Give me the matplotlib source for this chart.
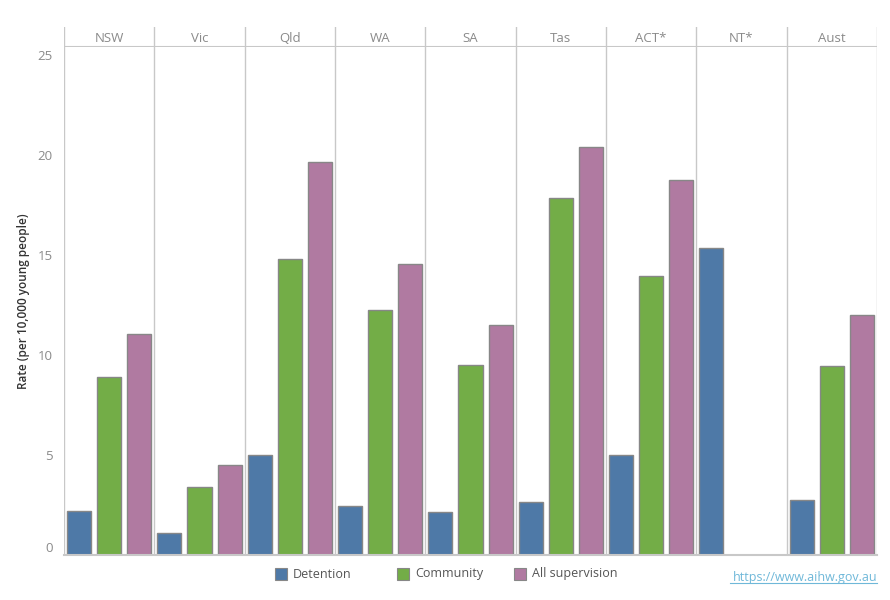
import numpy as np
import matplotlib
matplotlib.use('Agg')
import matplotlib.pyplot as plt
from matplotlib.patches import Rectangle

plt.rcParams['font.family'] = ['Open Sans', 'DejaVu Sans']

# data
states = ['NSW', 'Vic', 'Qld', 'WA', 'SA', 'Tas', 'ACT*', 'NT*', 'Aust']
detention = [2.2, 1.08, 5.0, 2.45, 2.15, 2.65, 5.0, 15.35, 2.75]
community = [8.9, 3.38, 14.8, 12.25, 9.5, 17.85, 13.95, np.nan, 9.45]
all_supervision = [11.05, 4.5, 19.65, 14.55, 11.5, 20.4, 18.75, np.nan, 12.0]
series_names = ['Detention', 'Community', 'All supervision']
colors = ['#4e79a7', '#73ad47', '#b07aa1']
yticks = [0, 5, 10, 15, 20, 25]

W, H = 890, 600
fig = plt.figure(figsize=(W / 100, H / 100), dpi=100)
grid_c = '#c8c8c8'
tick_c = '#8a8a8a'

x0, x1 = 64, 877
y_zero, y_head, y_top = 555, 47, 27
ax = fig.add_axes([x0 / W, 1 - y_zero / H, (x1 - x0) / W, (y_zero - y_head) / H])
n = len(states)
ax.set_xlim(0, n)
ax.set_ylim(0, (y_zero - y_head) / 20)

slot = 1 / 3
bw = slot * 0.8
for k, vals in enumerate([detention, community, all_supervision]):
    xs = np.arange(n) + slot * (k + 0.5)
    v = np.array(vals, dtype=float)
    m = ~np.isnan(v)
    ax.bar(xs[m], v[m], width=bw, color=colors[k], edgecolor='#878787',
           linewidth=1.0, zorder=3)

for i in range(n + 1):
    ax.axvline(i, color=grid_c, lw=1, zorder=1)
for s in ax.spines.values():
    s.set_visible(False)
ax.axhline(0, color=grid_c, lw=1.5, zorder=4, clip_on=False)
ax.set_xticks([])
ax.set_yticks(yticks)
ax.set_yticklabels([str(t) for t in yticks])
ax.tick_params(axis='y', length=0, pad=8, labelsize=9.5, labelcolor=tick_c)
# tableau nudges the 0 label up
ax.get_yticklabels()[0].set_va('bottom')
ax.set_ylabel('Rate (per 10,000 young people)', fontsize=8.5, color='#333333',
              fontweight='semibold')
ax.yaxis.set_label_coords((30 - x0) / (x1 - x0), 0.5)

# header strip
hx = fig.add_axes([x0 / W, 1 - y_head / H, (x1 - x0) / W, (y_head - y_top) / H])
hx.set_xlim(0, n)
hx.set_ylim(0, 1)
hx.axis('off')
for i in range(n + 1):
    hx.axvline(i, color=grid_c, lw=1)
hx.axhline(0, color=grid_c, lw=1.5)
for i, s in enumerate(states):
    hx.text(i + 0.5, 0.4, s, ha='center', va='center', fontsize=9.5, color=tick_c)

# legend
lx = [275, 397, 514]
ly = 574
for k, name in enumerate(series_names):
    fig.patches.append(Rectangle((lx[k] / W, 1 - (ly + 6) / H), 12 / W, 12 / H,
                                 transform=fig.transFigure, facecolor=colors[k],
                                 edgecolor='#878787', lw=0.8))
    fig.text((lx[k] + 18) / W, 1 - ly / H, name, fontsize=9, color='#555555',
             va='center', ha='left')

fig.text(877 / W, 1 - 577 / H, 'https://www.aihw.gov.au', fontsize=9,
         color='#6fb8d9', ha='right', va='center')
fig.add_artist(plt.Line2D([730 / W, 877 / W], [1 - 583 / H, 1 - 583 / H],
                          color='#6fb8d9', lw=0.8))

fig.savefig('out.png', dpi=100)
